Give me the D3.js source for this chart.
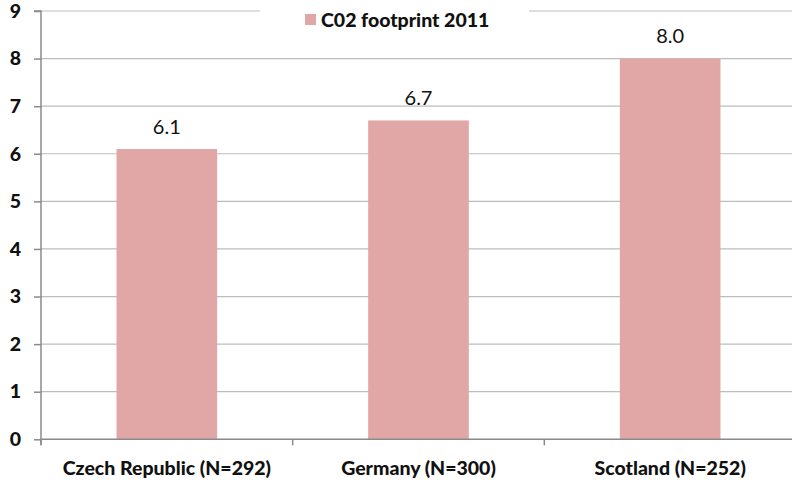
<!DOCTYPE html>
<html>
<head>
<meta charset="utf-8">
<script src="https://cdn.jsdelivr.net/npm/d3@7"></script>
<style>
  html, body { margin: 0; padding: 0; background: #fff; }
  svg { display: block; font-family: Lato, "Open Sans", sans-serif; }
</style>
</head>
<body>
<svg id="chart" width="792" height="485"></svg>
<script>
// Data
const categories = ["Czech Republic (N=292)", "Germany (N=300)", "Scotland (N=252)"];
const footprint2011 = [6.1, 6.7, 8.0];
const yTicks = [0, 1, 2, 3, 4, 5, 6, 7, 8, 9];
const seriesName = "C02 footprint 2011";

const svg = d3.select("#chart");
const W = 792, H = 485;
const plot = { left: 41, right: 796, top: 11, bottom: 439.3 };
const barColor = "#e1a7a6";
const heavy = 900;

const x = d3.scaleBand()
  .domain(categories)
  .range([plot.left, plot.right])
  .paddingInner(0.6)
  .paddingOuter(0.3);

const y = d3.scaleLinear()
  .domain([0, 9])
  .range([plot.bottom, plot.top]);

// Gridlines
svg.append("g")
  .selectAll("line")
  .data(yTicks.filter(d => d > 0))
  .join("line")
  .attr("x1", plot.left).attr("x2", W)
  .attr("y1", d => y(d)).attr("y2", d => y(d))
  .attr("stroke", "#bdbdbd").attr("stroke-width", 1.2);

// Legend background hides the top gridline behind it
svg.append("rect")
  .attr("x", 260).attr("y", 0).attr("width", 269).attr("height", 40)
  .attr("fill", "#fff");

// Bars
svg.append("g")
  .selectAll("rect")
  .data(footprint2011)
  .join("rect")
  .attr("x", (d, i) => x(categories[i]))
  .attr("width", x.bandwidth())
  .attr("y", d => y(d))
  .attr("height", d => y(0) - y(d))
  .attr("fill", barColor);

// Value labels
svg.append("g")
  .selectAll("text")
  .data(footprint2011)
  .join("text")
  .attr("x", (d, i) => x(categories[i]) + x.bandwidth() / 2)
  .attr("y", d => y(d) - 15.5)
  .attr("text-anchor", "middle")
  .attr("font-size", 20)
  .attr("fill", "#111")
  .text(d => d.toFixed(1));

// Y axis
const yAxis = d3.axisLeft(y).tickValues(yTicks).tickSize(7).tickPadding(13).tickFormat(d3.format("d"));
const gy = svg.append("g")
  .attr("transform", `translate(${plot.left},0)`)
  .call(yAxis);
gy.select(".domain").attr("stroke", "#8a8a8a").attr("stroke-width", 1.5)
  .attr("d", `M-7,${plot.top}H0V${plot.bottom + 6}`);
gy.selectAll(".tick line").attr("stroke", "#8a8a8a").attr("stroke-width", 1.5);
gy.selectAll(".tick text")
  .attr("font-size", 19.5).attr("font-weight", heavy).attr("fill", "#111")
  .attr("font-family", "Lato, sans-serif");

// X axis
const xAxis = d3.axisBottom(x).tickSize(0).tickPadding(22);
const gx = svg.append("g")
  .attr("transform", `translate(0,${plot.bottom})`)
  .call(xAxis);
gx.select(".domain").attr("stroke", "#8a8a8a").attr("stroke-width", 1.5)
  .attr("d", `M${plot.left},0H${W}`);
gx.selectAll(".tick text")
  .attr("font-size", 19.5).attr("font-weight", heavy).attr("fill", "#111")
  .attr("font-family", "Lato, sans-serif");

// Category boundary ticks
const step = x.step();
const bounds = categories.map(c => x(c) - (step - x.bandwidth()) / 2);
gx.append("g")
  .selectAll("line")
  .data(bounds)
  .join("line")
  .attr("x1", d => d).attr("x2", d => d)
  .attr("y1", 0).attr("y2", 6)
  .attr("stroke", "#8a8a8a").attr("stroke-width", 1.5);

// Legend
const lg = svg.append("g");
lg.append("rect")
  .attr("x", 305).attr("y", 14).attr("width", 11).attr("height", 11)
  .attr("fill", barColor);
lg.append("text")
  .attr("x", 321).attr("y", 27)
  .attr("font-size", 19.5).attr("font-weight", heavy).attr("fill", "#111")
  .text(seriesName);
</script>
</body>
</html>
